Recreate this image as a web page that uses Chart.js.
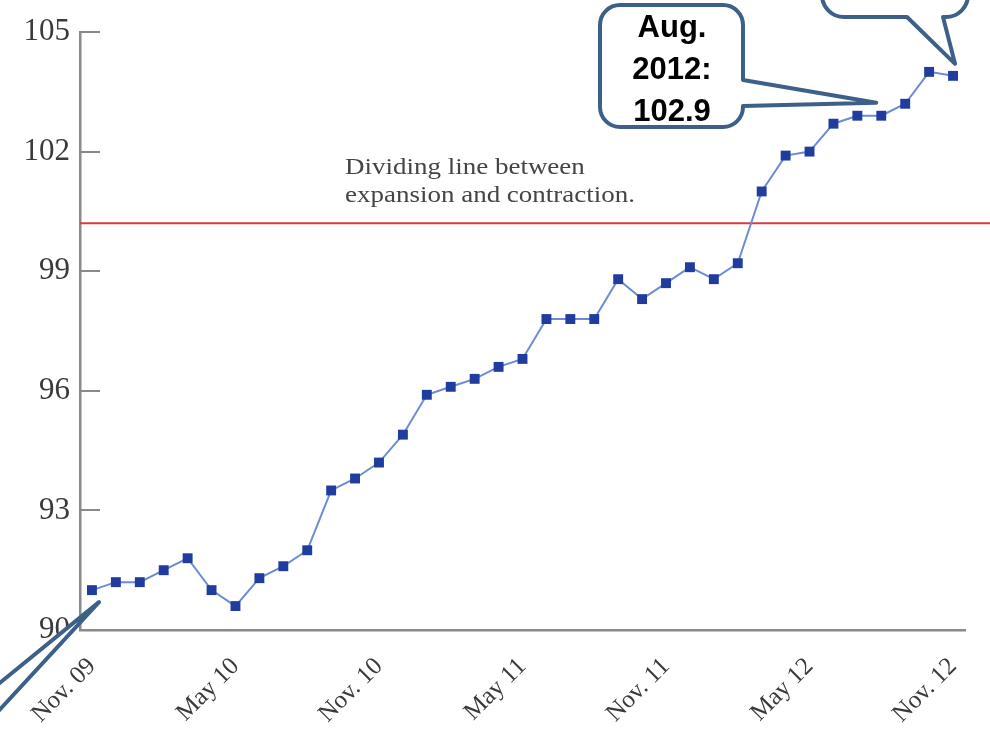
<!DOCTYPE html>
<html>
<head>
<meta charset="utf-8">
<script src="https://cdn.jsdelivr.net/npm/chart.js@4"></script>
<style>
  html, body { margin: 0; padding: 0; background: #fff; }
  #wrap { width: 990px; height: 743px; }
</style>
</head>
<body>
<div id="wrap"><canvas id="myChart" width="990" height="743"></canvas></div>
<script>
// months from Nov. 09 to Nov. 12
const months = ['Nov. 09', 'Dec. 09', 'Jan. 10', 'Feb. 10', 'Mar. 10', 'Apr. 10', 'May 10', 'Jun. 10', 'Jul. 10',
  'Aug. 10', 'Sep. 10', 'Oct. 10', 'Nov. 10', 'Dec. 10', 'Jan. 11', 'Feb. 11', 'Mar. 11', 'Apr. 11', 'May 11',
  'Jun. 11', 'Jul. 11', 'Aug. 11', 'Sep. 11', 'Oct. 11', 'Nov. 11', 'Dec. 11', 'Jan. 12', 'Feb. 12', 'Mar. 12',
  'Apr. 12', 'May 12', 'Jun. 12', 'Jul. 12', 'Aug. 12', 'Sep. 12', 'Oct. 12', 'Nov. 12'];
const shownLabels = ['Nov. 09', 'May 10', 'Nov. 10', 'May 11', 'Nov. 11', 'May 12', 'Nov. 12'];
const values = [91.0, 91.2, 91.2, 91.5, 91.8, 91.0, 90.6, 91.3, 91.6, 92.0, 93.5, 93.8, 94.2, 94.9, 95.9, 96.1,
  96.3, 96.6, 96.8, 97.8, 97.8, 97.8, 98.8, 98.3, 98.7, 99.1, 98.8, 99.2, 101.0, 101.9, 102.0, 102.7, 102.9,
  102.9, 103.2, 104.0, 103.9];
const yTicks = [90, 93, 96, 99, 102, 105];
const dividingLine = 100.2;
const noteLines = ['Dividing line between', 'expansion and contraction.'];
const calloutLines = ['Aug.', '2012:', '102.9'];
const calloutIndex = 33;

const AXIS = '#8a8a8a';
const BORDER = '#3d6089';

// rounded box with a pointer; pointer = {side, a, b, tip}
function callout(ctx, x0, y0, x1, y1, r, p) {
  ctx.beginPath();
  ctx.moveTo(x0 + r, y0);
  ctx.lineTo(x1 - r, y0);
  ctx.arcTo(x1, y0, x1, y0 + r, r);
  if (p && p.side === 'right') {
    ctx.lineTo(x1, p.a);
    ctx.lineTo(p.tip.x, p.tip.y);
    ctx.lineTo(x1, p.b);
  }
  ctx.lineTo(x1, y1 - r);
  ctx.arcTo(x1, y1, x1 - r, y1, r);
  if (p && p.side === 'bottom') {
    ctx.lineTo(p.b, y1);
    ctx.lineTo(p.tip.x, p.tip.y);
    ctx.lineTo(p.a, y1);
  }
  ctx.lineTo(x0 + r, y1);
  ctx.arcTo(x0, y1, x0, y1 - r, r);
  ctx.lineTo(x0, y0 + r);
  ctx.arcTo(x0, y0, x0 + r, y0, r);
  ctx.closePath();
  ctx.fillStyle = '#fff';
  ctx.fill();
  ctx.lineWidth = 4;
  ctx.lineJoin = 'round';
  ctx.strokeStyle = BORDER;
  ctx.stroke();
}

const extras = {
  id: 'extras',
  beforeDatasetsDraw(chart) {
    const ctx = chart.ctx;
    const area = chart.chartArea;
    const y = chart.scales.y;
    ctx.save();
    // inner tick marks on the y axis
    ctx.strokeStyle = AXIS;
    ctx.lineWidth = 2;
    yTicks.forEach(t => {
      const py = Math.round(y.getPixelForValue(t));
      ctx.beginPath();
      ctx.moveTo(area.left, py);
      ctx.lineTo(area.left + 20, py);
      ctx.stroke();
    });
    // dividing line
    const dy = y.getPixelForValue(dividingLine);
    ctx.strokeStyle = '#d83a44';
    ctx.lineWidth = 2;
    ctx.beginPath();
    ctx.moveTo(area.left, dy);
    ctx.lineTo(chart.width, dy);
    ctx.stroke();
    // note text, stretched a bit to the width of the book font
    ctx.fillStyle = '#444';
    ctx.font = '24px "Liberation Serif", serif';
    ctx.textBaseline = 'alphabetic';
    const k = 290 / ctx.measureText(noteLines[1]).width;
    ctx.translate(345, 0);
    ctx.scale(k, 1);
    ctx.fillText(noteLines[0], 0, dy - 49);
    ctx.fillText(noteLines[1], 0, dy - 21);
    ctx.restore();
  },
  afterDraw(chart) {
    const ctx = chart.ctx;
    const x = chart.scales.x;
    const y = chart.scales.y;
    const pt = i => ({ x: x.getPixelForValue(i), y: y.getPixelForValue(values[i]) });
    ctx.save();
    // Aug. 2012 callout
    const a = pt(calloutIndex);
    callout(ctx, 600, 5, 743, 127, 20, { side: 'right', a: 80, b: 106, tip: { x: a.x - 5, y: a.y - 13 } });
    ctx.fillStyle = '#000';
    ctx.font = 'bold 31px "Liberation Sans", sans-serif';
    ctx.textAlign = 'center';
    ctx.textBaseline = 'middle';
    calloutLines.forEach((s, i) => ctx.fillText(s, 672, 28 + i * 42));
    // top right callout (box cut by the frame)
    const b = pt(values.length - 1);
    callout(ctx, 822, -60, 968, 17, 22, { side: 'bottom', a: 907, b: 943, tip: { x: b.x + 2, y: b.y - 12 } });
    // bottom left callout pointer (box off the frame)
    const c = pt(0);
    callout(ctx, -200, 640, -20, 760, 20, { side: 'right', a: 699, b: 731, tip: { x: c.x + 7, y: c.y + 12 } });
    ctx.restore();
  }
};

new Chart(document.getElementById('myChart').getContext('2d'), {
  type: 'line',
  data: {
    labels: months,
    datasets: [{
      data: values,
      borderColor: '#6b8bd6',
      borderWidth: 2,
      pointStyle: 'rect',
      pointRadius: 7,
      pointBackgroundColor: '#1f3c9e',
      pointBorderColor: '#1f3c9e',
      pointBorderWidth: 0,
      tension: 0
    }]
  },
  options: {
    responsive: false,
    animation: false,
    devicePixelRatio: 1,
    layout: { padding: { top: 32, right: 25, left: 0, bottom: 0 } },
    plugins: { legend: { display: false }, tooltip: { enabled: false } },
    scales: {
      x: {
        type: 'category',
        offset: true,
        afterFit: s => { s.height = 113; s.paddingLeft = 0; s.paddingRight = 0; },
        grid: { display: false, drawTicks: false },
        border: { display: true, color: AXIS, width: 2.5 },
        ticks: {
          autoSkip: false,
          maxRotation: 45,
          minRotation: 45,
          padding: 22,
          color: '#3a3a3a',
          font: { family: '"Liberation Serif", serif', size: 25 },
          callback: (v, i) => shownLabels.includes(months[i]) ? months[i] : ''
        }
      },
      y: {
        min: 90,
        max: 105,
        afterFit: s => { s.width = 80; },
        afterBuildTicks: s => { s.ticks = yTicks.map(v => ({ value: v })); },
        grid: { display: false, drawTicks: false },
        border: { display: true, color: AXIS, width: 2.5 },
        ticks: {
          padding: 10,
          color: '#3a3a3a',
          font: { family: '"Liberation Serif", serif', size: 31 }
        }
      }
    }
  },
  plugins: [extras]
});
</script>
</body>
</html>
